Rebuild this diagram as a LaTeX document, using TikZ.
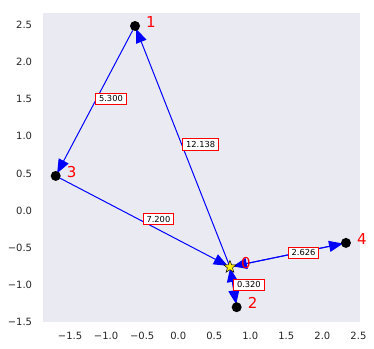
\documentclass[tikz,border=0pt]{standalone}
\usepackage{fontspec}
\setmainfont{DejaVu Sans}
\usetikzlibrary{arrows.meta,shapes.geometric,calc}
\definecolor{axbg}{HTML}{EAEAF2}
\definecolor{tickc}{HTML}{262626}
\pgfdeclarelayer{bg}
\pgfdeclarelayer{edges}
\pgfsetlayers{bg,edges,main}

\begin{document}
\begin{tikzpicture}[
  x=72.1bp, y=74.25bp,
  font=\fontsize{10bp}{12bp}\selectfont,
  edge/.style={-{Triangle[length=14bp, width=11bp]}, blue, line width=1bp,
               shorten >=-2bp},
  dot/.style={circle, fill=black, minimum size=10bp, inner sep=0pt, outer sep=0pt},
  hub/.style={star, star points=5, star point ratio=2.4, fill=yellow, draw=black,
              line width=0.5bp, minimum size=13bp, inner sep=0pt, outer sep=0pt},
  nlbl/.style={text=red, font=\fontsize{15bp}{18bp}\selectfont, inner sep=0pt},
  elbl/.style={draw=red, fill=white, line width=0.8bp, text=black,
               font=\fontsize{8.3bp}{10bp}\selectfont,
               inner xsep=3.3bp, inner ysep=2.5bp, anchor=west, yshift=2.2bp},
  tick/.style={text=tickc, inner sep=0pt},
]

%% ── canvas and axes ──────────────────────────────────────────────
\useasboundingbox (-2.472,-1.864) rectangle (2.716,2.836);
\begin{pgfonlayer}{bg}
  \fill[axbg] (-1.875,-1.504) rectangle (2.521,2.661);
\end{pgfonlayer}

\foreach \v/\t in {-1.5/−1.5, -1.0/−1.0, -0.5/−0.5, 0.0/0.0, 0.5/0.5,
                   1.0/1.0, 1.5/1.5, 2.0/2.0, 2.5/2.5}
  \node[tick, anchor=base] at (\v,-1.733) {\t};
\foreach \v/\t in {-1.5/−1.5, -1.0/−1.0, -0.5/−0.5, 0.0/0.0, 0.5/0.5,
                   1.0/1.0, 1.5/1.5, 2.0/2.0, 2.5/2.5}
  \node[tick, anchor=east] at (-2.024,\v) {\t};

%% ── nodes ────────────────────────────────────────────────────────
\node[hub] (n0) at (0.718,-0.760) {};
\node[dot] (n1) at (-0.599, 2.486) {};
\node[dot] (n2) at (0.811,-1.302) {};
\node[dot] (n3) at (-1.699, 0.466) {};
\node[dot] (n4) at (2.327,-0.436) {};

\foreach \n in {0,...,4}
  \node[nlbl] (l\n) at ([shift={(16bp,4bp)}]n\n) {\n};

%% ── edges ────────────────────────────────────────────────────────
\begin{pgfonlayer}{edges}
  \foreach \a/\b in {1/3, 0/1, 3/0, 0/2, 2/0, 0/4, 4/0}
    \draw[edge] (n\a) -- (n\b);
\end{pgfonlayer}

%% edge weights
\foreach \a/\b/\w in {1/3/5.300, 0/1/12.138, 3/0/7.200, 0/2/0.320, 0/4/2.626}
  \node[elbl] (w\a\b) at ($(n\a)!0.5!(n\b)$) {\w};

\end{tikzpicture}
\end{document}
